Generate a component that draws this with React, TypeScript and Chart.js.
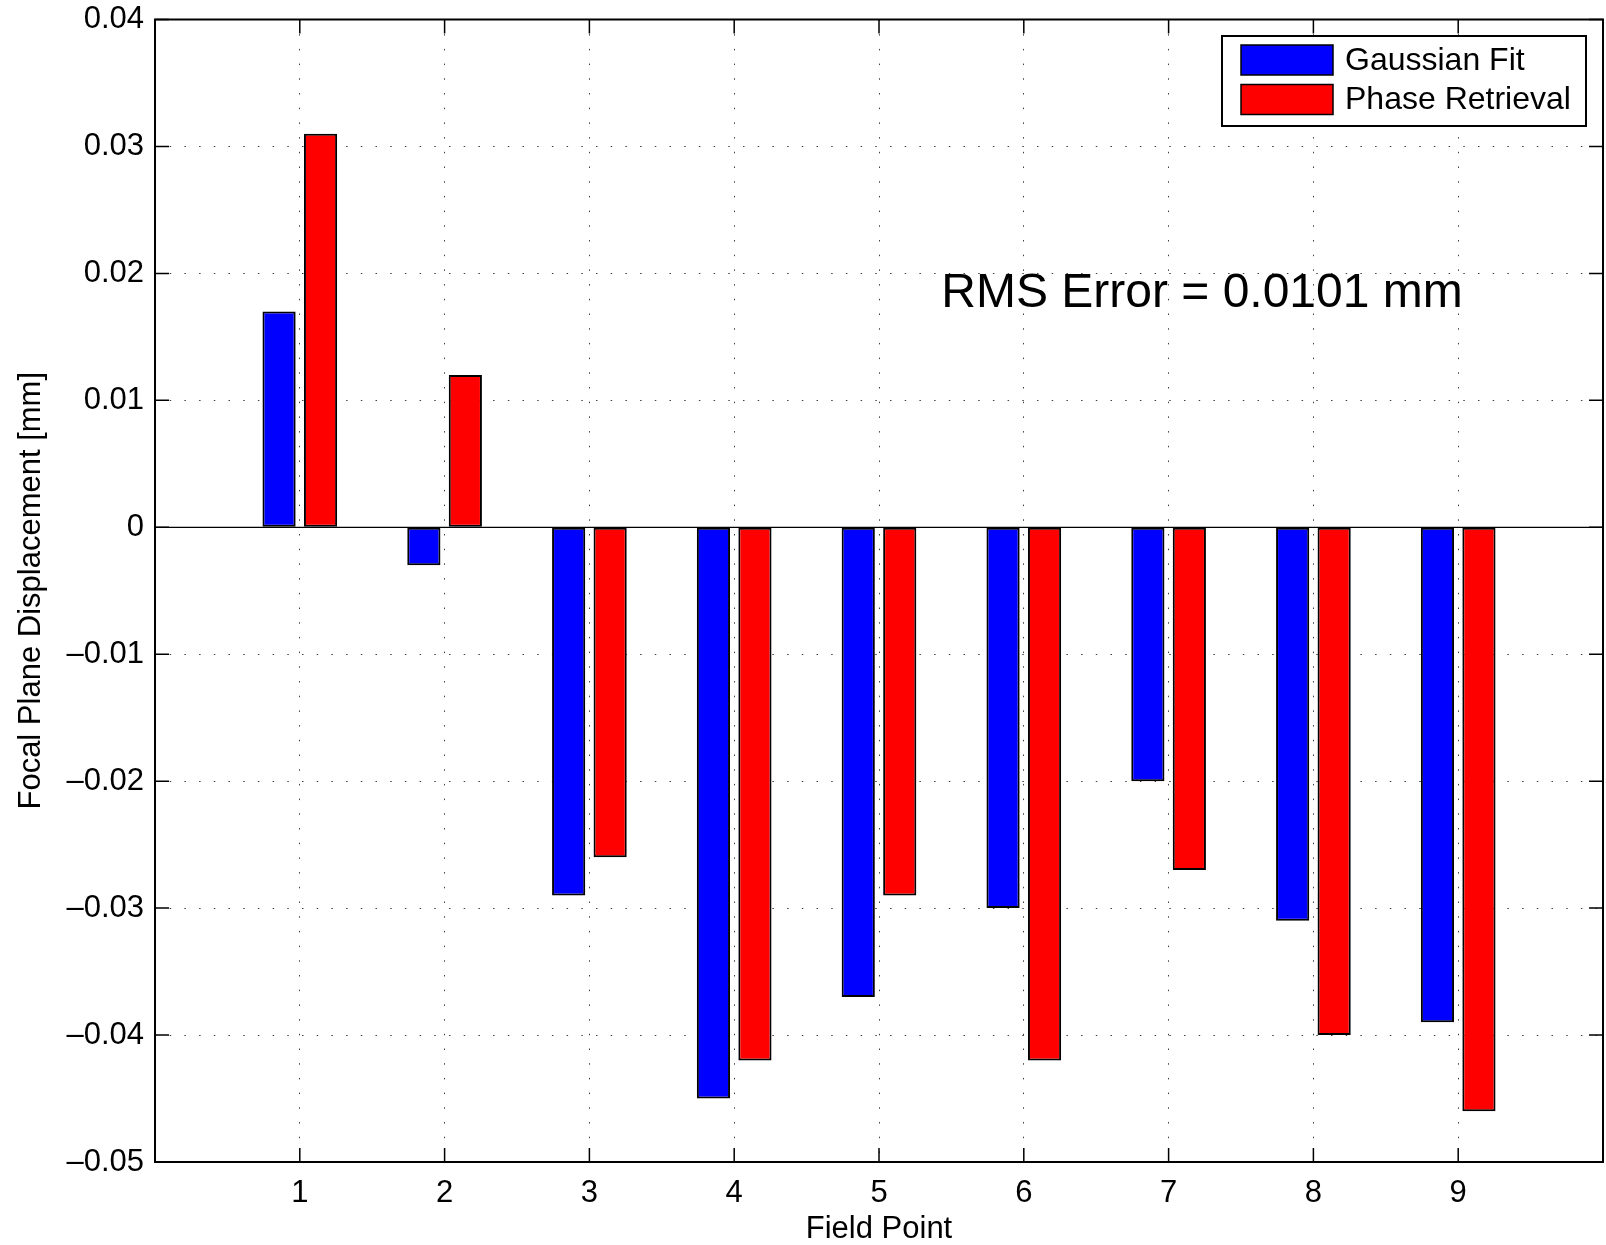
import React, { useEffect, useRef } from 'react';
import { Chart, registerables } from 'chart.js';

Chart.register(...registerables);

const fieldPoints = [1, 2, 3, 4, 5, 6, 7, 8, 9];
const gaussianFit = [0.017, -0.003, -0.029, -0.045, -0.037, -0.030, -0.020, -0.031, -0.039];
const phaseRetrieval = [0.031, 0.012, -0.026, -0.042, -0.029, -0.042, -0.027, -0.040, -0.046];
const yTickValues = [-0.05, -0.04, -0.03, -0.02, -0.01, 0, 0.01, 0.02, 0.03, 0.04];
const yTickLabels = ['\u20130.05', '\u20130.04', '\u20130.03', '\u20130.02', '\u20130.01', '0', '0.01', '0.02', '0.03', '0.04'];
const xTickLabels = ['1', '2', '3', '4', '5', '6', '7', '8', '9'];
const seriesLabels = ['Gaussian Fit', 'Phase Retrieval'];
const seriesColors = ['#0000ff', '#ff0000'];
const xTitle = 'Field Point';
const yTitle = 'Focal Plane Displacement [mm]';
const annotationText = 'RMS Error = 0.0101 mm';
const annotationX = 5.43;
const annotationY = 0.0184;

const FONT = "'Liberation Sans', Arial, Helvetica, sans-serif";
const W = 1606;
const H = 1245;

const framePlugin = {
  id: 'matlabFrame',
  afterDatasetsDraw(chart: any) {
    const { ctx, chartArea: a, scales } = chart;
    const xs = scales.x;
    const ys = scales.y;
    ctx.save();
    ctx.strokeStyle = '#000';
    // zero baseline
    ctx.lineWidth = 1.2;
    const y0 = ys.getPixelForValue(0);
    ctx.beginPath();
    ctx.moveTo(a.left, y0);
    ctx.lineTo(a.right, y0);
    ctx.stroke();
    // frame
    ctx.lineWidth = 2;
    ctx.strokeRect(a.left, a.top, a.right - a.left, a.bottom - a.top);
    // inward ticks
    const tl = 14;
    ctx.lineWidth = 1.5;
    ctx.beginPath();
    fieldPoints.forEach((v) => {
      const px = xs.getPixelForValue(v);
      ctx.moveTo(px, a.bottom);
      ctx.lineTo(px, a.bottom - tl);
      ctx.moveTo(px, a.top);
      ctx.lineTo(px, a.top + tl);
    });
    yTickValues.forEach((v) => {
      const py = ys.getPixelForValue(v);
      ctx.moveTo(a.left, py);
      ctx.lineTo(a.left + tl, py);
      ctx.moveTo(a.right, py);
      ctx.lineTo(a.right - tl, py);
    });
    ctx.stroke();
    ctx.restore();
  },
  afterDraw(chart: any) {
    const { ctx, chartArea: a, scales } = chart;
    ctx.save();
    // annotation
    ctx.fillStyle = '#000';
    ctx.font = `48px ${FONT}`;
    ctx.textBaseline = 'middle';
    ctx.textAlign = 'left';
    ctx.fillText(annotationText, scales.x.getPixelForValue(annotationX), scales.y.getPixelForValue(annotationY));
    // legend
    const bw = 364;
    const bh = 90;
    const bx = a.right - 17 - bw;
    const by = a.top + 16.5;
    ctx.fillStyle = '#fff';
    ctx.fillRect(bx, by, bw, bh);
    ctx.strokeStyle = '#000';
    ctx.lineWidth = 2;
    ctx.strokeRect(bx, by, bw, bh);
    ctx.font = `32px ${FONT}`;
    chart.data.datasets.forEach((ds: any, i: number) => {
      const cy = by + 24 + i * 39.5;
      ctx.fillStyle = ds.backgroundColor;
      ctx.fillRect(bx + 19, cy - 15, 92, 30);
      ctx.lineWidth = 1.5;
      ctx.strokeStyle = '#000';
      ctx.strokeRect(bx + 19, cy - 15, 92, 30);
      ctx.fillStyle = '#000';
      ctx.textBaseline = 'middle';
      ctx.fillText(ds.label, bx + 123, cy + 1);
    });
    ctx.restore();
  },
};

export default function App() {
  const ref = useRef<HTMLCanvasElement | null>(null);
  useEffect(() => {
    if (!ref.current) return;
    const datasetsSrc = [gaussianFit, phaseRetrieval];
    const chart = new Chart(ref.current, {
      type: 'bar',
      data: {
        datasets: datasetsSrc.map((vals, i) => ({
          label: seriesLabels[i],
          data: fieldPoints.map((x, j) => ({ x, y: vals[j] })),
          backgroundColor: seriesColors[i],
          borderColor: '#000',
          borderWidth: 2,
          borderSkipped: false,
          categoryPercentage: 0.573,
          barPercentage: 0.8,
        })),
      },
      options: {
        responsive: false,
        animation: false,
        devicePixelRatio: 1,
        layout: { padding: { top: 19.5, right: 3, left: 0, bottom: 0 } },
        plugins: {
          legend: { display: false },
          tooltip: { enabled: false },
        },
        scales: {
          x: {
            type: 'linear',
            min: 0,
            max: 10,
            offset: false,
            afterBuildTicks: (s: any) => {
              s.ticks = fieldPoints.map((v) => ({ value: v }));
            },
            afterFit: (s: any) => {
              s.height = 83;
              s.paddingLeft = 0;
              s.paddingRight = 0;
            },
            ticks: {
              font: { family: FONT, size: 31 },
              color: '#000',
              padding: 13,
              maxRotation: 0,
              autoSkip: false,
              callback: (v: any) => {
                const idx = fieldPoints.indexOf(Number(v));
                return idx >= 0 ? xTickLabels[idx] : '';
              },
            },
            grid: {
              offset: false,
              drawTicks: false,
              color: 'rgba(0,0,0,0.75)',
              lineWidth: 1,
            },
            border: { display: false, dash: [1.5, 13.2] },
            title: {
              display: true,
              text: xTitle,
              color: '#000',
              font: { family: FONT, size: 31, lineHeight: 1.0 },
              padding: { top: 0, bottom: 0 },
            },
          },
          y: {
            type: 'linear',
            min: -0.05,
            max: 0.04,
            afterBuildTicks: (s: any) => {
              s.ticks = yTickValues.map((v) => ({ value: v }));
            },
            afterFit: (s: any) => {
              s.width = 155;
              s.paddingTop = 0;
              s.paddingBottom = 0;
            },
            ticks: {
              font: { family: FONT, size: 31 },
              color: '#000',
              padding: 11,
              autoSkip: false,
              callback: (v: any) => {
                let best = 0;
                yTickValues.forEach((t, i) => {
                  if (Math.abs(t - Number(v)) < Math.abs(yTickValues[best] - Number(v))) best = i;
                });
                return yTickLabels[best];
              },
            },
            grid: {
              drawTicks: false,
              color: 'rgba(0,0,0,0.75)',
              lineWidth: 1,
            },
            border: { display: false, dash: [1.5, 13.2] },
            title: {
              display: true,
              text: yTitle,
              color: '#000',
              font: { family: FONT, size: 31, lineHeight: 1.2 },
              padding: { top: 13, bottom: 0 },
            },
          },
        },
      },
      plugins: [framePlugin],
    } as any);
    return () => chart.destroy();
  }, []);
  return (
    <div style={{ position: 'absolute', left: 0, top: 0, width: W, height: H, background: '#fff' }}>
      <canvas ref={ref} width={W} height={H} style={{ width: W, height: H, display: 'block' }} />
    </div>
  );
}
